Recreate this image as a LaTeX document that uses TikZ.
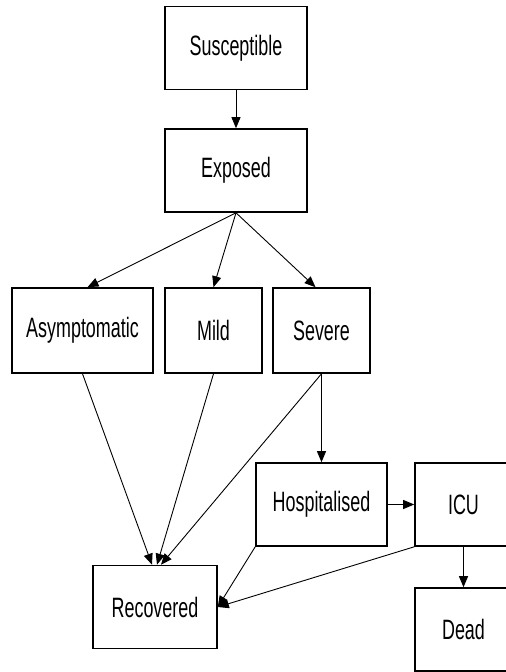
\documentclass[tikz,border=0pt]{standalone}
\usepackage{fontspec}
\setmainfont[FakeStretch=0.64]{Liberation Sans}
\usetikzlibrary{arrows.meta}

\tikzset{
  etat/.style={draw, line width=1.6pt, fill=white, inner sep=0pt,
    minimum height=83, font=\fontsize{28}{32}\selectfont},
  fleche/.style={-{Triangle[length=11pt,width=9pt]}, line width=0.9pt}
}

\begin{document}
\begin{tikzpicture}[x=1pt,y=-1pt]
      % Cadre
      \useasboundingbox (0,0) rectangle (506,672);

      % Compartiments
      \node[etat, minimum width=142] (sus) at (236,48) {Susceptible};
      \node[etat, minimum width=142] (exp) at (236,170.5) {Exposed};
      \node[etat, minimum width=141, minimum height=85] (asym) at (82.5,330.5) {Asymptomatic};
      \node[etat, minimum width=97, minimum height=85] (mild) at (213.5,330.5) {Mild};
      \node[etat, minimum width=97, minimum height=85] (sev) at (321.5,330.5) {Severe};
      \node[etat, minimum width=131] (hosp) at (321.5,504.5) {Hospitalised};
      \node[etat, minimum width=97] (icu) at (463.5,504.5) {ICU};
      \node[etat, minimum width=97] (dead) at (463.5,629.5) {Dead};
      \node[etat, minimum width=124] (rec) at (155,607) {Recovered};

      % Transitions
      \draw[fleche] (sus) -- (exp);
      \draw[fleche] (exp.south) -- ([xshift=5]asym.north);
      \draw[fleche] (exp.south) -- (mild.north);
      \draw[fleche] (exp.south) -- ([xshift=-6]sev.north);
      \draw[fleche] (asym.south) -- ([xshift=-3]rec.north);
      \draw[fleche] (mild.south) -- ([xshift=2]rec.north);
      \draw[fleche] (sev.south) -- ([xshift=6]rec.north);
      \draw[fleche] (sev.south) -- (hosp.north);
      \draw[fleche] (hosp) -- (icu);
      \draw[fleche] (hosp.south west) -- (rec.east);
      \draw[fleche] (icu.south west) -- (rec.east);
      \draw[fleche] (icu.south) -- (dead.north);
\end{tikzpicture}
\end{document}
